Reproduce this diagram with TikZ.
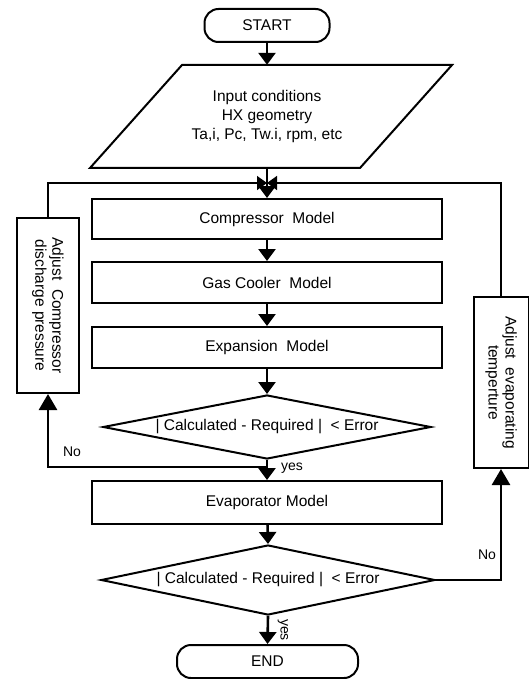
\documentclass[tikz,border=0pt]{standalone}
\usepackage{fontspec}
\setmainfont{Liberation Sans}
\usetikzlibrary{shapes.geometric,arrows.meta}
\begin{document}
\begin{tikzpicture}[x=1pt,y=-1pt,
  every node/.style={font=\fontsize{15.5}{19}\selectfont, inner sep=0pt},
  box/.style={draw, line width=2pt, minimum width=350pt, minimum height=41pt},
  sidebox/.style={draw, line width=2pt},
  term/.style={draw, line width=2pt, rounded corners=14pt, minimum height=33pt},
  dec/.style={draw, diamond, line width=2pt, inner sep=0pt},
  flow/.style={line width=2.6pt, -{Triangle[length=12pt,width=17pt]}},
  upflow/.style={line width=2.6pt, -{Triangle[length=16pt,width=18pt]}},
  back/.style={line width=1.5pt, -{Triangle[length=10pt,width=14pt]}},
  lbl/.style={font=\fontsize{14}{17}\selectfont},
  rot/.style={rotate=-90, align=center, font=\fontsize{15.5}{17}\selectfont}
]
\useasboundingbox (0,0) rectangle (529,679);

% main column
\node[term, minimum width=125pt] (start) at (267,25.5) {START};
\draw[line width=2pt] (90,168) -- (182,65) -- (452,65) -- (360,168) -- cycle;
\node[align=center, minimum height=103pt] (input) at (267,116.5)
  {Input conditions\\HX geometry\\Ta,i, Pc, Tw.i, rpm, etc};
\coordinate (J) at (267,183);
\node[box, minimum height=40pt] (comp) at (267,219) {Compressor~ Model};
\node[box] (gas) at (267,282.5) {Gas Cooler~ Model};
\node[box] (exp) at (267,347.5) {Expansion~ Model};
\node[dec, aspect=5.1, minimum width=328pt, minimum height=64pt] (d1) at (267,427)
  {| Calculated - Required |~ < Error};
\coordinate (Y1) at (267,467);
\node[box, minimum height=43pt] (evap) at (267,502.5) {Evaporator Model};
\node[dec, aspect=4.8, minimum width=334pt, minimum height=70pt] (d2) at (268,580)
  {| Calculated - Required |~ < Error};
\node[term, minimum width=181pt] (end) at (267.5,661.5) {END};

% side boxes
\node[sidebox, minimum width=62pt, minimum height=175pt] (adjcomp) at (48,305.5) {};
\node[rot] at (adjcomp) {Adjust~ Compressor\\discharge pressure};
\node[sidebox, minimum width=55pt, minimum height=171pt] (adjevap) at (501,382.5) {};
\node[rot] at (adjevap) {Adjust~ evaporating\\temperture};

% connectors
\draw[flow] (start) -- (input.north);
\draw[flow] (input.south) -- (comp.north);
\draw[flow] (comp) -- (gas);
\draw[flow] (gas) -- (exp);
\draw[flow] (exp) -- (d1.north);
\draw[flow] (d1.south) -- (evap.north);
\draw[flow] (evap) -- (d2.north);
\draw[flow] (d2.south) -- (end.north);
\draw[upflow] (Y1) -| (adjcomp.south);
\draw[upflow] (d2.east) -| (adjevap.south);
\draw[back] (adjcomp.north) |- (J);
\draw[back] (adjevap.north) |- (J);

% labels
\node[lbl] at (72,452) {No};
\node[lbl] at (292,468) {yes};
\node[lbl] at (487,555) {No};
\node[lbl, rotate=-90] at (283,630) {yes};
\end{tikzpicture}
\end{document}
